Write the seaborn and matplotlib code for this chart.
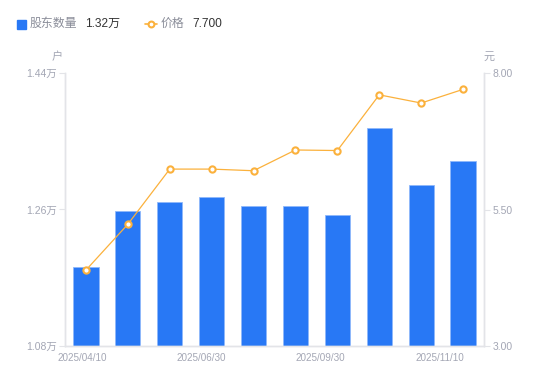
import matplotlib
matplotlib.use("Agg")
import matplotlib.pyplot as plt
from matplotlib.lines import Line2D
from matplotlib.patches import Rectangle
import seaborn as sns
import numpy as np

# data
dates = ["2025/04/10", "2025/04/30", "2025/05/30", "2025/06/30", "2025/07/31",
         "2025/08/29", "2025/09/30", "2025/10/20", "2025/10/31", "2025/11/10"]
holders = [1.184, 1.258, 1.270, 1.276, 1.265, 1.265, 1.253, 1.367, 1.292, 1.324]  # 万户
price = [4.39, 5.23, 6.24, 6.24, 6.21, 6.59, 6.58, 7.60, 7.45, 7.70]
left_ticks = [1.08, 1.26, 1.44]
right_ticks = [3.00, 5.50, 8.00]
xlabel_dates = ["2025/04/10", "2025/06/30", "2025/09/30", "2025/11/10"]

BLUE = "#2878f5"
ORANGE = "#fbb13c"
GREY = "#a3a6b4"
AXIS = "#e3e4e8"

sns.set_style("white")
plt.rcParams["font.family"] = ["Liberation Sans", "Noto Sans CJK SC", "DejaVu Sans"]

fig = plt.figure(figsize=(5.5, 3.81), dpi=100)
ax = fig.add_axes([65 / 550, 35 / 381, 419 / 550, 273 / 381])

sns.barplot(x=list(range(len(dates))), y=holders, color=BLUE, width=0.6,
            edgecolor="#8fb8fb", linewidth=0.6, saturation=1, ax=ax)
ax.set_xlim(-0.5, len(dates) - 0.5)
ax.set_ylim(left_ticks[0], left_ticks[-1])
ax.set_yticks(left_ticks)
ax.set_yticklabels([f"{v:.2f}万" for v in left_ticks])

ax2 = ax.twinx()
sns.lineplot(x=np.arange(len(dates)), y=price, color=ORANGE, linewidth=0.9,
             marker="o", markersize=4.5, markerfacecolor="white",
             markeredgecolor=ORANGE, markeredgewidth=1.5, ax=ax2)
ax2.set_ylim(right_ticks[0], right_ticks[-1])
ax2.set_yticks(right_ticks)
ax2.set_yticklabels([f"{v:.2f}" for v in right_ticks])

# x labels spread evenly as in the reference
label_pos = np.linspace(-0.1, 8.45, len(xlabel_dates))
ax.set_xticks(label_pos)
ax.set_xticklabels(xlabel_dates)

for a in (ax, ax2):
    a.spines["top"].set_visible(False)
    for side in ("left", "right", "bottom"):
        a.spines[side].set_color(AXIS)
        a.spines[side].set_linewidth(1)
    a.set_xlabel("")
    a.set_ylabel("")
    a.grid(False)

ax.tick_params(axis="x", length=0, pad=5, labelsize=7.1, labelcolor=GREY)
ax.tick_params(axis="y", length=4, width=0.8, color=AXIS, pad=2,
               labelsize=7.5, labelcolor=GREY)
ax2.tick_params(axis="y", length=4, width=0.8, color=AXIS, pad=2,
                labelsize=7.5, labelcolor=GREY)

# unit labels
fig.text(57 / 550, 1 - 57 / 381, "户", color=GREY, fontsize=8, ha="center", va="center")
fig.text(489 / 550, 1 - 57 / 381, "元", color=GREY, fontsize=8, ha="center", va="center")

# legend row
ly = 1 - 24 / 381
fig.patches.append(Rectangle((17 / 550, 1 - 28.5 / 381), 8.5 / 550, 8.5 / 381,
                             transform=fig.transFigure, color=BLUE, figure=fig))
fig.text(30 / 550, ly, "股东数量", color="#8a8d99", fontsize=8.6, va="center")
fig.text(85 / 550, ly, f"{holders[-1]:.2f}万", color="#333333", fontsize=8.6, va="center")
fig.lines.append(Line2D([145 / 550, 157 / 550], [ly, ly], transform=fig.transFigure,
                        color=ORANGE, linewidth=1.2, figure=fig))
fig.lines.append(Line2D([151 / 550], [ly], transform=fig.transFigure, color=ORANGE,
                        marker="o", markersize=4.2, markerfacecolor="white",
                        markeredgewidth=1.5, linestyle="none", figure=fig))
fig.text(161 / 550, ly, "价格", color="#8a8d99", fontsize=8.6, va="center")
fig.text(192 / 550, ly, f"{price[-1]:.3f}", color="#333333", fontsize=8.6, va="center")

fig.savefig("out.png", dpi=100)
